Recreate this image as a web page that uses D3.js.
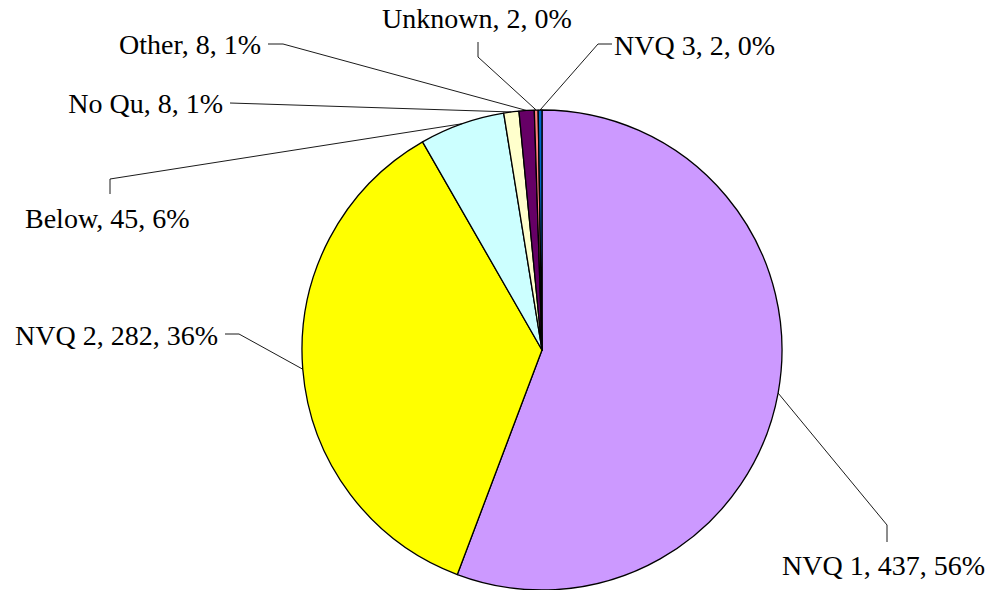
<!DOCTYPE html>
<html>
<head>
<meta charset="utf-8">
<script src="https://cdn.jsdelivr.net/npm/d3@7"></script>
<style>
  body { margin: 0; background: #fff; }
</style>
</head>
<body>
<div id="chart"></div>
<script>
var width = 989;
var height = 590;

// data
var categories = ["NVQ 1", "NVQ 2", "Below", "No Qu", "Other", "Unknown", "NVQ 3"];
var counts = [437, 282, 45, 8, 8, 2, 2];
var colours = ["#CC99FF", "#FFFF00", "#CCFFFF", "#FFFFCC", "#660066", "#FF8080", "#0066CC"];

// label layout (text anchor point + leader elbow points), same order as categories
var labelLayout = [
  { x: 782, y: 575, anchor: "start", path: [[887, 525], [887, 542]] },
  { x: 218, y: 345, anchor: "end",   path: [[239, 334], [225, 334]] },
  { x: 25,  y: 228, anchor: "start", path: [[110, 179], [110, 194]] },
  { x: 223, y: 113, anchor: "end",   path: [[230, 103]] },
  { x: 261, y: 54,  anchor: "end",   path: [[283, 44], [268, 44]] },
  { x: 477, y: 28,  anchor: "middle", path: [[478, 57], [478, 42]] },
  { x: 614, y: 55,  anchor: "start", path: [[598, 44], [612, 44]] }
];

var cx = 542, cy = 350, r = 240;

var data = categories.map((c, i) => ({ name: c, value: counts[i], colour: colours[i], label: labelLayout[i] }));
var total = d3.sum(counts);

var svg = d3.select("#chart").append("svg")
  .attr("width", width)
  .attr("height", height);

var pie = d3.pie()
  .sort(null)
  .value(d => d.value);

var arc = d3.arc()
  .innerRadius(0)
  .outerRadius(r);

var arcs = pie(data);

var g = svg.append("g")
  .attr("transform", `translate(${cx},${cy})`);

g.selectAll("path.slice")
  .data(arcs)
  .enter()
  .append("path")
  .attr("class", "slice")
  .attr("d", arc)
  .style("fill", d => d.data.colour)
  .style("stroke", "#000")
  .style("stroke-width", 1.3)
  .style("stroke-linejoin", "round");

// leader lines from slice edge to label
var line = d3.line();
svg.selectAll("path.leader")
  .data(arcs)
  .enter()
  .append("path")
  .attr("class", "leader")
  .attr("d", d => {
    var a = (d.startAngle + d.endAngle) / 2;
    var p0 = [cx + r * Math.sin(a), cy - r * Math.cos(a)];
    return line([p0].concat(d.data.label.path));
  })
  .style("fill", "none")
  .style("stroke", "#000")
  .style("stroke-width", 0.9);

var pct = d3.format(".0%");
svg.selectAll("text.label")
  .data(arcs)
  .enter()
  .append("text")
  .attr("class", "label")
  .attr("x", d => d.data.label.x)
  .attr("y", d => d.data.label.y)
  .style("font-family", "'Times New Roman', Tinos, 'Liberation Serif', 'Noto Serif', 'DejaVu Serif', FreeSerif, Times, serif")
  .style("font-size", "28px")
  .style("text-anchor", d => d.data.label.anchor)
  .text(d => `${d.data.name}, ${d.data.value}, ${pct(d.data.value / total)}`);
</script>
</body>
</html>
